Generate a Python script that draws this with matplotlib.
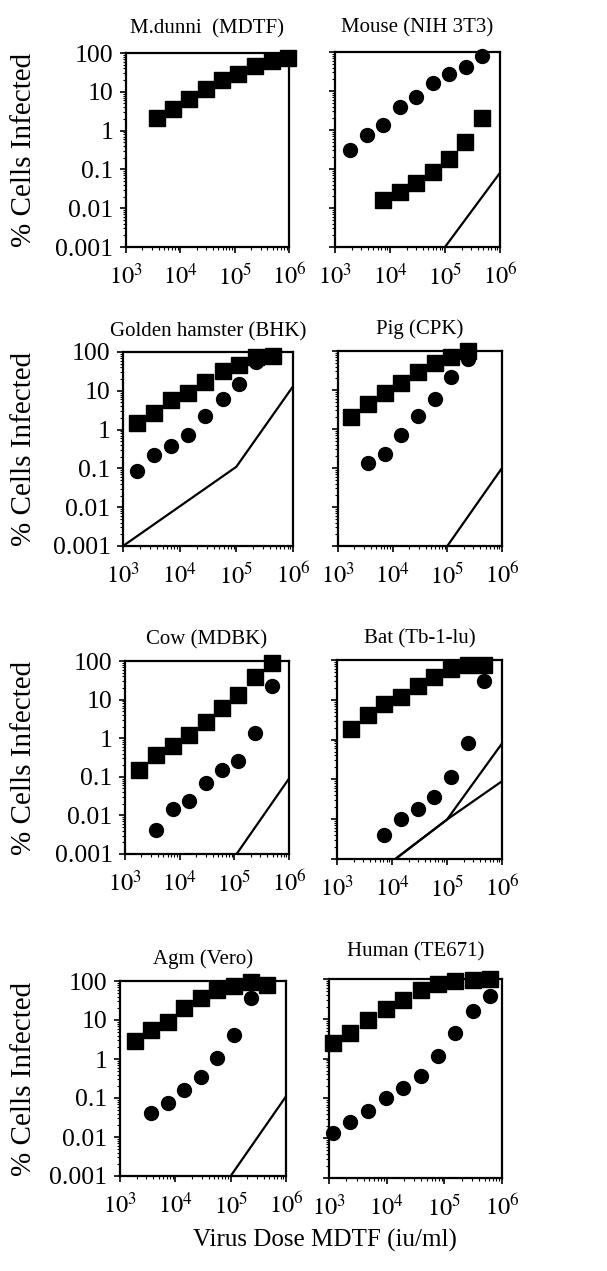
import matplotlib
matplotlib.use("Agg")
from matplotlib import pyplot as plt
from matplotlib.ticker import LogLocator, NullFormatter, FixedLocator

plt.rcParams['font.family'] = ['Liberation Serif', 'DejaVu Serif']
plt.rcParams['mathtext.fontset'] = 'stix'

# M. dunni (MDTF)
dunni_dose = [3.7e3, 7.4e3, 1.45e4, 2.95e4, 5.9e4, 1.15e5, 2.4e5, 4.9e5, 9.5e5]
dunni_sq = [2.1, 3.6, 6.5, 11.8, 20.5, 29, 45, 61, 74]

# Mouse (NIH 3T3)
mouse_dose_c = [1.9e3, 3.8e3, 7.6e3, 1.5e4, 3.0e4, 6.0e4, 1.2e5, 2.4e5, 4.8e5]
mouse_circ = [0.30, 0.74, 1.34, 3.8, 7.1, 16, 27, 41, 77]
mouse_dose_s = [7.6e3, 1.5e4, 3.0e4, 6.0e4, 1.2e5, 2.3e5, 4.7e5]
mouse_sq = [0.016, 0.026, 0.045, 0.085, 0.18, 0.50, 2.0]
mouse_bg_x = [1e5, 1e6]
mouse_bg_y = [0.001, 0.08]

# Golden hamster (BHK)
ham_dose = [1.8e3, 3.5e3, 7.1e3, 1.4e4, 2.8e4, 5.75e4, 1.12e5, 2.24e5, 4.5e5]
ham_sq = [1.5, 2.7, 5.9, 8.8, 17, 32, 45, 74, 77]
ham_circ = [0.085, 0.22, 0.37, 0.72, 2.2, 6.3, 15, 55]
ham_bg_x = [1e3, 1e5, 1e6]
ham_bg_y = [0.001, 0.11, 13]

# Pig (CPK)
pig_dose = [1.75e3, 3.5e3, 7.2e3, 1.45e4, 2.95e4, 6.0e4, 1.15e5, 2.35e5]
pig_sq = [2.05, 4.3, 8.4, 15, 29, 49, 70, 100]
pig_circ = [0.135, 0.23, 0.72, 2.2, 6.0, 21, 63]
pig_bg_x = [1e5, 1e6]
pig_bg_y = [0.001, 0.1]

# Cow (MDBK)
cow_dose = [1.8e3, 3.7e3, 7.4e3, 1.5e4, 3.0e4, 5.9e4, 1.17e5, 2.35e5, 4.8e5]
cow_sq = [0.15, 0.37, 0.61, 1.2, 2.7, 6.0, 13, 39, 91]
cow_circ = [0.0041, 0.0145, 0.023, 0.069, 0.15, 0.25, 1.35, 22]
cow_bg_x = [1.1e5, 1e6]
cow_bg_y = [0.001, 0.09]

# Bat (Tb-1-lu)
bat_dose = [1.8e3, 3.6e3, 7.2e3, 1.45e4, 2.95e4, 5.9e4, 1.17e5, 2.4e5, 4.7e5]
bat_sq = [1.9, 4.2, 7.9, 12, 22.5, 38, 59, 75, 75]
bat_circ = [0.0039, 0.010, 0.018, 0.037, 0.115, 0.81, 29]
bat_bg_x = [1.15e4, 1e5, 1e6]
bat_bg_y1 = [0.001, 0.0098, 0.8]
bat_bg_y2 = [0.001, 0.0098, 0.09]

# Agm (Vero)
agm_dose = [1.85e3, 3.7e3, 7.4e3, 1.45e4, 2.9e4, 5.75e4, 1.15e5, 2.3e5, 4.6e5]
agm_sq = [2.9, 5.7, 9.1, 20, 36, 59, 74, 96, 79]
agm_circ = [0.041, 0.073, 0.16, 0.34, 1.06, 4.1, 36]
agm_bg_x = [1e5, 1e6]
agm_bg_y = [0.001, 0.11]

# Human (TE671)
hum_dose = [1.17e3, 2.35e3, 4.8e3, 9.8e3, 1.95e4, 3.9e4, 7.8e4, 1.55e5, 3.2e5, 6.3e5]
hum_sq = [2.5, 4.4, 9.5, 18, 30, 54, 76, 87, 93, 100]
hum_circ = [0.0135, 0.026, 0.047, 0.10, 0.18, 0.36, 1.19, 4.3, 15.5, 38]

titles = ["M.dunni  (MDTF)", "Mouse (NIH 3T3)", "Golden hamster (BHK)", "Pig (CPK)",
          "Cow (MDBK)", "Bat (Tb-1-lu)", "Agm (Vero)", "Human (TE671)"]
ytick_vals = [0.001, 0.01, 0.1, 1, 10, 100]
ytick_labels = ["0.001", "0.01", "0.1", "1", "10", "100"]
xtick_vals = [1e3, 1e4, 1e5, 1e6]
xtick_labels = [r"$10^{3}$", r"$10^{4}$", r"$10^{5}$", r"$10^{6}$"]

W, H = 607, 1271
fig = plt.figure(figsize=(W / 100, H / 100), dpi=100)

# panel boxes in pixels: left, top, right, bottom
boxes = [(126, 53, 289, 247), (335, 52, 500, 247),
         (123, 352, 293, 546), (338, 351, 502, 546),
         (125, 661, 289, 854), (337, 660, 502, 859),
         (120, 981, 286, 1176), (329, 979, 502, 1178)]
title_pads = [14, 14, 11, 12, 12, 12, 12, 16]

axes = []
for i, (l, t, r, b) in enumerate(boxes):
    ax = fig.add_axes([l / W, 1 - b / H, (r - l) / W, (b - t) / H])
    ax.set_xscale('log')
    ax.set_yscale('log')
    ax.set_xlim(1e3, 1e6)
    ax.set_ylim(1e-3, 100)
    ax.xaxis.set_major_locator(FixedLocator(xtick_vals))
    ax.xaxis.set_minor_locator(LogLocator(base=10, subs=range(2, 10)))
    ax.yaxis.set_major_locator(FixedLocator(ytick_vals))
    ax.yaxis.set_minor_locator(LogLocator(base=10, subs=range(2, 10)))
    ax.xaxis.set_minor_formatter(NullFormatter())
    ax.yaxis.set_minor_formatter(NullFormatter())
    ax.set_xticklabels(xtick_labels, fontsize=17.5)
    if i % 2 == 0:
        ax.set_yticklabels(ytick_labels, fontsize=18.5)
    else:
        ax.set_yticklabels([])
    ax.tick_params(which='major', direction='out', length=4, width=1.2, pad=5)
    ax.tick_params(which='minor', direction='out', length=2.5, width=0.8)
    ax.tick_params(axis='x', which='major', pad=8)
    ax.tick_params(top=False, right=False, which='both')
    for s in ax.spines.values():
        s.set_linewidth(1.6)
    ax.set_title(titles[i], fontsize=15, pad=title_pads[i])
    axes.append(ax)

    if i % 2 == 0:
        fig.text(24 / W, 1 - (t + b) / 2 / H, "% Cells Infected", rotation=90,
                 ha='center', va='center', fontsize=21)

sq = dict(marker='s', ms=11, color='black', ls='none', clip_on=False, zorder=3)
ci = dict(marker='o', ms=10, color='black', ls='none', clip_on=False, zorder=4)
bg = dict(color='black', lw=1.6, zorder=2)

ax = axes[0]
ax.plot(dunni_dose, dunni_sq, **sq)

ax = axes[1]
ax.plot(mouse_dose_c, mouse_circ, **ci)
ax.plot(mouse_dose_s, mouse_sq, **sq)
ax.plot(mouse_bg_x, mouse_bg_y, **bg)

ax = axes[2]
ax.plot(ham_dose, ham_sq, **sq)
ax.plot(ham_dose[:len(ham_circ)], ham_circ, **ci)
ax.plot(ham_bg_x, ham_bg_y, **bg)

ax = axes[3]
ax.plot(pig_dose, pig_sq, **sq)
ax.plot(pig_dose[1:], pig_circ, **ci)
ax.plot(pig_bg_x, pig_bg_y, **bg)

ax = axes[4]
ax.plot(cow_dose, cow_sq, **sq)
ax.plot(cow_dose[1:], cow_circ, **ci)
ax.plot(cow_bg_x, cow_bg_y, **bg)

ax = axes[5]
ax.plot(bat_dose, bat_sq, **sq)
ax.plot(bat_dose[2:], bat_circ, **ci)
ax.plot(bat_bg_x, bat_bg_y1, **bg)
ax.plot(bat_bg_x, bat_bg_y2, **bg)

ax = axes[6]
ax.plot(agm_dose, agm_sq, **sq)
ax.plot(agm_dose[1:1 + len(agm_circ)], agm_circ, **ci)
ax.plot(agm_bg_x, agm_bg_y, **bg)

ax = axes[7]
ax.plot(hum_dose, hum_sq, **sq)
ax.plot(hum_dose, hum_circ, **ci)

fig.text(325 / W, 1 - 1240 / H, "Virus Dose MDTF (iu/ml)", ha='center', va='center',
         fontsize=18)

fig.savefig("out.png", dpi=100)
